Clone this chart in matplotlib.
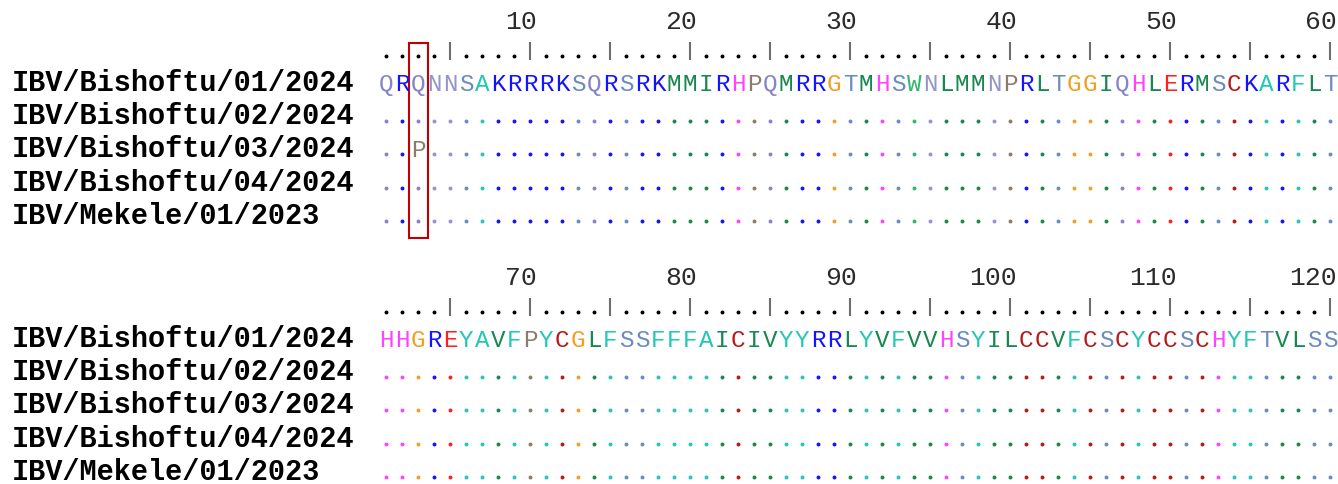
import matplotlib.pyplot as plt
from matplotlib.patches import Rectangle

# Alignment data
NAMES = [
    "IBV/Bishoftu/01/2024",
    "IBV/Bishoftu/02/2024",
    "IBV/Bishoftu/03/2024",
    "IBV/Bishoftu/04/2024",
    "IBV/Mekele/01/2023",
]
REF_SEQ = ("QRQNNSAKRRRKSQRSRKMMIRHPQMRRGTMHSWNLMMNPRLTGGIQHLERMSCKARFLT"
           "HHGREYAVFPYCGLFSSFFFAICIVYYRRLYVFVVHSYILCCVFCSCYCCSCHYFTVLSS")
# position (1-based) -> residue, differences from the reference
MUTATIONS = {"IBV/Bishoftu/03/2024": {3: "P"}}
HIGHLIGHT_POS = 3
BLOCK_WIDTH = 60

AA_COLORS = {
    "Q": "#8484c8", "N": "#9494c8", "R": "#1414ff", "K": "#1414ee",
    "S": "#6a8cc0", "T": "#6a8cc0", "A": "#22c8b4", "F": "#22c8b4",
    "Y": "#22c8b4", "M": "#16884f", "I": "#16884f", "L": "#16884f",
    "V": "#16884f", "W": "#34b46e", "H": "#ff44ff", "P": "#8c7c6c",
    "G": "#f0a020", "E": "#ff2020", "C": "#b81a1a",
}

# layout (pixels, y measured from the top of each block)
BLOCK_OFFSET = 256
NUM_BASE = 29
RULER_DOT_Y = 56
BAR_TOP, BAR_BOT = 42, 60
ROW_BASE0 = 91
ROW_STEP = 33.2
X0_PX = 386      # centre of first column
COL_PX = 16      # column width

mono = "Liberation Mono"


def build_sequences():
    seqs = []
    for name in NAMES:
        s = list(REF_SEQ)
        for pos, aa in MUTATIONS.get(name, {}).items():
            s[pos - 1] = aa
        seqs.append("".join(s))
    return seqs


def main():
    seqs = build_sequences()
    fig = plt.figure(figsize=(13.38, 4.84), dpi=100)
    ax = fig.add_axes([0, 0, 1, 1])
    ax.set_xlim(-X0_PX / COL_PX, (1338 - X0_PX) / COL_PX)
    ax.set_ylim(484, 0)
    ax.axis("off")

    n_blocks = (len(REF_SEQ) + BLOCK_WIDTH - 1) // BLOCK_WIDTH
    label_x = (12 - X0_PX) / COL_PX

    for b in range(n_blocks):
        y0 = b * BLOCK_OFFSET
        start = b * BLOCK_WIDTH
        cols = list(range(min(BLOCK_WIDTH, len(REF_SEQ) - start)))

        # ruler
        dot_x = [c for c in cols if (start + c + 1) % 5 != 0]
        bar_x = [c for c in cols if (start + c + 1) % 5 == 0]
        ax.scatter(dot_x, [y0 + RULER_DOT_Y] * len(dot_x), s=8, color="black",
                   linewidths=0)
        ax.vlines(bar_x, y0 + BAR_TOP, y0 + BAR_BOT, color="#6e6e6e", lw=1.5)
        for c in cols:
            pos = start + c + 1
            if pos % 10 == 0:
                ax.text(c + 0.45, y0 + NUM_BASE, str(pos), ha="right",
                        va="baseline", family=mono, fontsize=19, color="#2a2a2a")

        # rows
        for r, (name, seq) in enumerate(zip(NAMES, seqs)):
            yb = y0 + ROW_BASE0 + r * ROW_STEP
            ax.text(label_x, yb, name, ha="left", va="baseline", family=mono,
                    fontsize=20.6, fontweight="bold", color="black")
            for c in cols:
                aa = seq[start + c]
                ref = REF_SEQ[start + c]
                if r == 0 or aa != ref:
                    ax.text(c, yb, aa, ha="center", va="baseline", family=mono,
                            fontsize=17.5, color=AA_COLORS.get(aa, "black"))
                else:
                    ax.scatter([c], [yb - 3], s=8, color=AA_COLORS[ref],
                               linewidths=0)

        # highlight box around the mutated column
        hc = HIGHLIGHT_POS - 1 - start
        if 0 <= hc < len(cols):
            top = y0 + BAR_TOP + 1
            bottom = y0 + ROW_BASE0 + (len(NAMES) - 1) * ROW_STEP + 14
            ax.add_patch(Rectangle((hc - 0.56, top), 1.16, bottom - top,
                                   fill=False, edgecolor="#c00000", lw=1.5))

    fig.savefig("out.png", dpi=100, facecolor="white")


if __name__ == "__main__":
    main()
